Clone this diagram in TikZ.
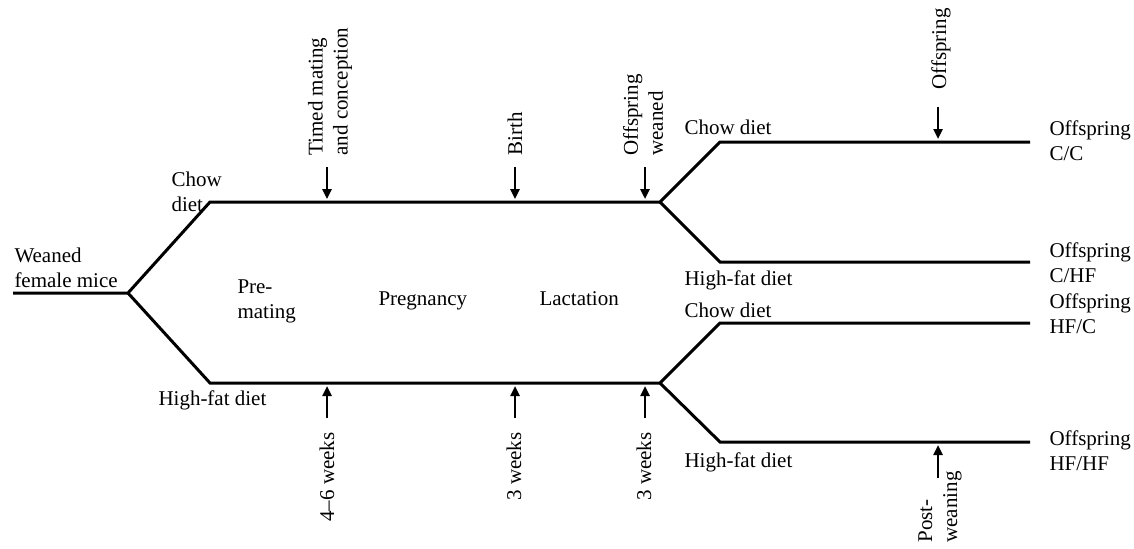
\documentclass[tikz,border=0pt]{standalone}
\usepackage{fontspec}
\setmainfont{Liberation Serif}
\usetikzlibrary{arrows.meta}

\begin{document}
\begin{tikzpicture}[x=0.5pt, y=-0.5pt, line width=1.5pt,
    txt/.style={inner sep=0pt, align=left, font=\fontsize{10.5}{12.5}\selectfont},
    vtxt/.style={txt, rotate=90},
    tickarrow/.style={line width=1.2pt, -{Triangle[length=5pt, width=4.5pt]}}]
    \useasboundingbox (0,0) rectangle (1134,548);

    % branch points
    \coordinate (start) at (13,293);
    \coordinate (fork) at (128,293);
    \coordinate (chow) at (210,202);
    \coordinate (hf) at (210,383);
    \coordinate (forkC) at (660,202);
    \coordinate (forkH) at (660,383);
    \coordinate (cc1) at (720,142);   \coordinate (cc2) at (1030,142);
    \coordinate (chf1) at (720,262);  \coordinate (chf2) at (1030,262);
    \coordinate (hfc1) at (720,323);  \coordinate (hfc2) at (1030,323);
    \coordinate (hfhf1) at (720,442); \coordinate (hfhf2) at (1030,442);

    \draw (start) -- (fork) -- (chow) -- (forkC) -- (cc1) -- (cc2);
    \draw (fork) -- (hf) -- (forkH) -- (hfc1) -- (hfc2);
    \draw (forkC) -- (chf1) -- (chf2);
    \draw (forkH) -- (hfhf1) -- (hfhf2);

    % labels along the branches (base = last line)
    \node[txt, anchor=base west] (weaned) at (13,287) {Weaned\\female mice};
    \node[txt, anchor=base west] (chowL) at (170,211) {Chow\\diet};
    \node[txt, anchor=base west] (hfL) at (157,405) {High-fat diet};
    \node[txt, anchor=base west] (premating) at (236,318) {Pre-\\mating};
    \node[txt, anchor=base west] (pregnancy) at (377,305) {Pregnancy};
    \node[txt, anchor=base west] (lactation) at (538,305) {Lactation};
    \node[txt, anchor=base west] (chowR1) at (683,134) {Chow diet};
    \node[txt, anchor=base west] (hfR1) at (683,285) {High-fat diet};
    \node[txt, anchor=base west] (chowR2) at (683,317) {Chow diet};
    \node[txt, anchor=base west] (hfR2) at (683,467) {High-fat diet};
    \node[txt, anchor=base west] (offCC) at (1048,160) {Offspring\\C/C};
    \node[txt, anchor=base west] (offCHF) at (1048,282) {Offspring\\C/HF};
    \node[txt, anchor=base west] (offHFC) at (1048,333) {Offspring\\HF/C};
    \node[txt, anchor=base west] (offHFHF) at (1048,470) {Offspring\\HF/HF};

    % events above, durations below
    \node[vtxt, anchor=west] (mating) at (330,157) {Timed mating\\and conception};
    \node[vtxt, anchor=west] (birth) at (515,157) {Birth};
    \node[vtxt, anchor=west] (weaning) at (643,157) {Offspring\\weaned};
    \node[vtxt, anchor=west] (offspring) at (941,91) {Offspring};
    \node[vtxt, anchor=east] (wk46) at (327,431) {4--6 weeks};
    \node[vtxt, anchor=east] (wk3a) at (514,431) {3 weeks};
    \node[vtxt, anchor=east] (wk3b) at (644,431) {3 weeks};
    \node[vtxt, anchor=west] (post) at (940,544) {Post-\\weaning};

    \foreach \x/\n in {327/mate, 515/birth, 645/wean} {
        \coordinate (\n a) at (\x,167);
        \coordinate (\n b) at (\x,199);
        \coordinate (\n c) at (\x,418);
        \coordinate (\n d) at (\x,386);
        \draw[tickarrow] (\n a) -- (\n b);
        \draw[tickarrow] (\n c) -- (\n d);
    }
    \coordinate (offa) at (938,107);
    \coordinate (offb) at (938,139);
    \coordinate (posta) at (938,478);
    \coordinate (postb) at (938,445);
    \draw[tickarrow] (offa) -- (offb);
    \draw[tickarrow] (posta) -- (postb);
\end{tikzpicture}
\end{document}
